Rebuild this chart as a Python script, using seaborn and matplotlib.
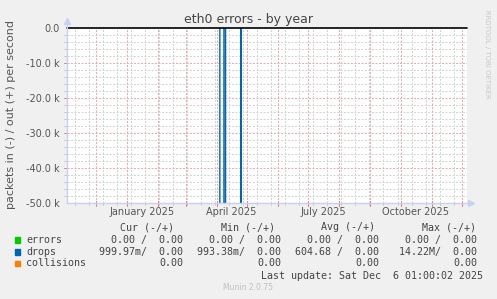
import matplotlib
matplotlib.use("Agg")
import matplotlib.pyplot as plt
import seaborn as sns
import pandas as pd
from matplotlib.patches import Rectangle

# ---------------- data ----------------
title = "eth0 errors - by year"
ylabel = "packets in (-) / out (+) per second"
range_start = "2024-11-02 07:00"
range_end = "2025-12-06 07:00"

# drops received (drawn negative); spikes
drop_burst = [1, 1, 1, 1, 2, 2, 2, 3, 3, 3]
drop_times = ["2025-04-03 18:00", "2025-04-03 20:00",
              "2025-04-07 18:00", "2025-04-07 20:00",
              "2025-04-09 06:00", "2025-04-09 08:00", "2025-04-09 10:00",
              "2025-04-24 18:00", "2025-04-24 20:00", "2025-04-24 22:00"]
drop_values = [0, 14.22e6, 9.5e6, 0, 0, 3.0e6, 0, 0, 6.0e6, 0]

y_ticks = [0, -10000, -20000, -30000, -40000, -50000]
y_ticklabels = ["0.0", "-10.0 k", "-20.0 k", "-30.0 k", "-40.0 k", "-50.0 k"]
x_label_dates = ["2025-01-16", "2025-04-15", "2025-07-16", "2025-10-16"]
x_labels = ["January 2025", "April 2025", "July 2025", "October 2025"]

legend_names = ["errors", "drops", "collisions"]
legend_colors = ["#00CC00", "#0066B3", "#FF8000"]
col_headers = ["Cur (-/+)", "Min (-/+)", "Avg (-/+)", "Max (-/+)"]
cur_vals = ["0.00 /  0.00", "999.97m/  0.00", "0.00"]
min_vals = ["0.00 /  0.00", "993.38m/  0.00", "0.00"]
avg_vals = ["0.00 /  0.00", "604.68 /  0.00", "0.00"]
max_vals = ["0.00 /  0.00", "14.22M/  0.00", "0.00"]
last_update = "Last update: Sat Dec  6 01:00:02 2025"
footer = "Munin 2.0.75"
side_text = "RRDTOOL / TOBI OETIKER"

# ---------------- figure ----------------
sns.set_style("white")
plt.rcParams["font.family"] = ["DejaVu Sans"]
plt.rcParams["path.simplify"] = False
W, H = 497, 299
fig = plt.figure(figsize=(W / 100, H / 100), dpi=100, facecolor="#F0F0F0")
L, R, T, B = 67, 467, 28.3, 203
ax = fig.add_axes([L / W, 1 - B / H, (R - L) / W, (B - T) / H])
ax.set_facecolor("#FFFFFF")

t0 = pd.Timestamp(range_start)
t1 = pd.Timestamp(range_end)

grey = "#D4D4D4"
red = "#F0A8A8"
dots = (0, (2, 1.5))
minor_days = pd.date_range("2024-11-10", t1, freq="14D")
months = pd.date_range("2024-12-01", t1, freq="MS")

df = pd.DataFrame({"time": pd.to_datetime(drop_times),
                   "value": [-v for v in drop_values],
                   "burst": drop_burst})
sns.lineplot(data=df, x="time", y="value", units="burst", ax=ax,
             color=legend_colors[1], lw=1.0, zorder=3, estimator=None,
             sort=False)
ax.set_xlim(t0, t1)
ax.set_ylim(-50000, 0)

for d in minor_days:
    ax.axvline(d, color=grey, lw=0.72, ls=dots, zorder=1)
for v in range(-48000, 0, 2000):
    if v % 10000:
        ax.axhline(v, color=grey, lw=0.72, ls=dots, zorder=1)
for d in months:
    ax.axvline(d, color=red, lw=0.72, ls=dots, zorder=1.5)
for v in y_ticks[1:-1]:
    ax.axhline(v, color=red, lw=0.72, ls=dots, zorder=1.5)
ax.axhline(0, color="#000000", lw=1.2, zorder=4, clip_on=False)

for s in ax.spines.values():
    s.set_visible(False)
axis_col = "#C8D0F4"
ax.plot([0, 0], [0, 1.02], transform=ax.transAxes, color=axis_col, lw=1,
        clip_on=False, zorder=5)
ax.plot([0, 1.006], [0, 0], transform=ax.transAxes, color=axis_col, lw=1,
        clip_on=False, zorder=5)
ax.plot([0], [1.04], marker="^", ms=5, color=axis_col, transform=ax.transAxes,
        clip_on=False, zorder=5)
ax.plot([1.01], [0], marker=">", ms=5, color=axis_col, transform=ax.transAxes,
        clip_on=False, zorder=5)
xt = ax.get_xaxis_transform()
yt = ax.get_yaxis_transform()
for d in minor_days:
    ax.plot([d, d], [0, -0.012], transform=xt, color="#C8C8C8", lw=0.7,
            clip_on=False)
for d in months:
    ax.plot([d, d], [0.01, -0.018], transform=xt, color="#E88080", lw=0.8,
            clip_on=False)
for v in range(-48000, 0, 2000):
    c = "#E88080" if v % 10000 == 0 else "#C8C8C8"
    ax.plot([-0.008, 0], [v, v], transform=yt, color=c, lw=0.7,
            clip_on=False)

txt = "#555555"
ax.set_yticks(y_ticks)
ax.set_yticklabels(y_ticklabels, fontsize=7, color=txt)
ax.set_xticks(pd.to_datetime(x_label_dates))
ax.set_xticklabels(x_labels, fontsize=7, color=txt)
ax.tick_params(axis="both", length=0)
ax.tick_params(axis="y", pad=5)
ax.tick_params(axis="x", pad=3)
ax.set_xlabel("")
ax.set_ylabel("")
if ax.get_legend():
    ax.get_legend().remove()

fig.text(248.5 / W, 1 - 19 / H, title, ha="center", va="center", fontsize=9,
         color="#444444")
fig.text(11 / W, 1 - 114.3 / H, ylabel, ha="center", va="center", rotation=90,
         fontsize=8, color=txt)
fig.text(487 / W, 1 - 54 / H, side_text, ha="center", va="center",
         rotation=-90, fontsize=5, color="#C8C8C8")

mono = "DejaVu Sans Mono"
lfs = 7.2
lcol = "#444444"
def yy(p):
    return 1 - p / H

for x, h in zip([173.7, 275, 375.3, 476], col_headers):
    fig.text(x / W, yy(227.3), h, ha="right", va="center", family=mono,
             fontsize=lfs, color=lcol)
rows_y = [239.7, 251.7, 263.3]
for i, (name, c) in enumerate(zip(legend_names, legend_colors)):
    y = rows_y[i]
    fig.patches.append(Rectangle((14.5 / W, yy(y + 2.8)), 5.5 / W, 5.5 / H,
                                 transform=fig.transFigure, color=c,
                                 figure=fig))
    fig.text(26.3 / W, yy(y), name, ha="left", va="center", family=mono,
             fontsize=lfs, color=lcol)
    for x, vals in zip([183, 281, 379, 477],
                       [cur_vals, min_vals, avg_vals, max_vals]):
        fig.text(x / W, yy(y), vals[i], ha="right", va="center", family=mono,
                 fontsize=lfs, color=lcol)
fig.text(483 / W, yy(275.7), last_update, ha="right", va="center",
         family=mono, fontsize=lfs, color=lcol)
fig.text(248 / W, yy(288), footer, ha="center", va="center", fontsize=5.5,
         color="#C0C0C0")

fig.savefig("out.png", dpi=100, facecolor=fig.get_facecolor())
